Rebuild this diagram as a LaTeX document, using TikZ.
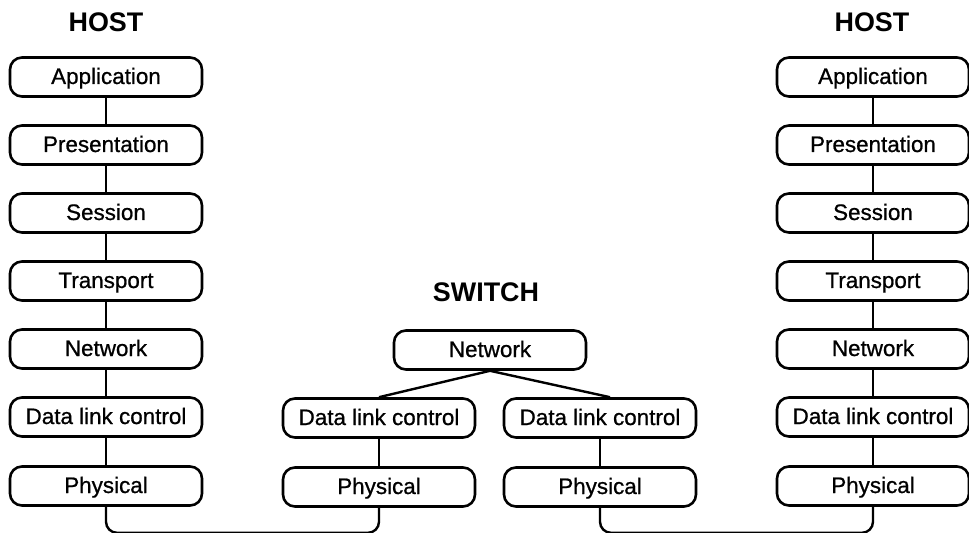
\documentclass[tikz,border=0pt]{standalone}
\usepackage{fontspec}
\setmainfont{Liberation Sans}
\newfontfamily\layerfont[FakeBold=0.8]{Liberation Sans}
\begin{document}
\begin{tikzpicture}[x=1bp,y=-1bp,
  layer/.style={draw, line width=2.6bp, rounded corners=12bp,
    minimum width=192bp, minimum height=39bp, inner sep=0pt,
    text height=16bp, text depth=2bp,
    font=\layerfont\fontsize{22.5}{26}\selectfont},
  heading/.style={font=\fontsize{27}{30}\selectfont\bfseries},
  link/.style={line width=2.4bp},
  wire/.style={line width=2.4bp, rounded corners=11bp}]
\useasboundingbox (0,0) rectangle (969,533);

% left host stack
\node[heading] (hostL) at (106,22) {HOST};
\node[layer] (lA) at (106,77)  {Application};
\node[layer] (lP) at (106,145) {Presentation};
\node[layer] (lS) at (106,213) {Session};
\node[layer] (lT) at (106,281) {Transport};
\node[layer] (lN) at (106,349) {Network};
\node[layer] (lD) at (106,417) {Data link control};
\node[layer] (lH) at (106,486) {Physical};

% right host stack
\node[heading] (hostR) at (872,22) {HOST};
\node[layer] (rA) at (873,77)  {Application};
\node[layer] (rP) at (873,145) {Presentation};
\node[layer] (rS) at (873,213) {Session};
\node[layer] (rT) at (873,281) {Transport};
\node[layer] (rN) at (873,349) {Network};
\node[layer] (rD) at (873,417) {Data link control};
\node[layer] (rH) at (873,486) {Physical};

% switch
\node[heading] (sw) at (486,292) {SWITCH};
\node[layer] (sN)  at (490,350) {Network};
\node[layer] (sD1) at (379,418) {Data link control};
\node[layer] (sD2) at (600,418) {Data link control};
\node[layer] (sH1) at (379,487) {Physical};
\node[layer] (sH2) at (600,487) {Physical};

% vertical links inside the stacks
\foreach \a/\b in {lA/lP,lP/lS,lS/lT,lT/lN,lN/lD,lD/lH,
                   rA/rP,rP/rS,rS/rT,rT/rN,rN/rD,rD/rH,
                   sD1/sH1,sD2/sH2}
  \draw[link] (\a.south) -- (\b.north);

% switch network layer fans out to both link layers
\draw[link] (sN.south) -- (sD1.north);
\draw[link] (sN.south) -- ([xshift=10bp]sD2.north);

% physical media
\draw[wire] (lH.south) -- ++(0,26) -| (sH1.south);
\draw[wire] (sH2.south) -- ++(0,25) -| (rH.south);
\end{tikzpicture}
\end{document}
